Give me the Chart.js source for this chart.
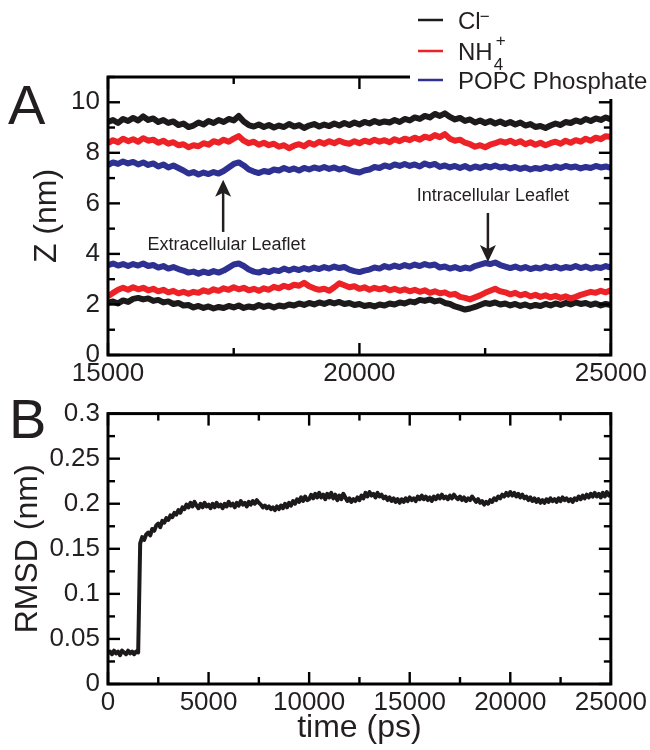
<!DOCTYPE html>
<html><head><meta charset="utf-8">
<script src="https://cdn.jsdelivr.net/npm/chart.js@4"></script>
<style>
html,body{margin:0;padding:0;background:#fff;}
#wrap{position:relative;width:650px;height:750px;overflow:hidden;}
canvas{position:absolute;left:0;}
</style></head><body>
<div id="wrap">
<canvas id="cA" style="top:0;width:650px;height:390px"></canvas>
<canvas id="cB" style="top:390px;width:650px;height:360px"></canvas>
</div>
<script>
// ---------- DATA ----------
const stepA = 100;           // ps between samples, panel A (starts at 15000)
const startA = 15000;
const clUpper = [9.22,9.30,9.18,9.34,9.26,9.38,9.28,9.44,9.30,9.36,9.22,9.30,9.18,9.24,9.10,9.16,9.02,9.08,9.20,9.12,9.26,9.18,9.30,9.22,9.34,9.28,9.46,9.24,9.10,9.04,9.12,9.02,9.10,9.00,9.08,9.02,9.14,9.04,9.10,8.98,9.08,9.14,9.04,9.12,9.06,9.16,9.08,9.18,9.10,9.20,9.12,9.22,9.16,9.26,9.18,9.24,9.20,9.30,9.22,9.34,9.28,9.40,9.34,9.46,9.40,9.54,9.46,9.56,9.42,9.32,9.38,9.26,9.32,9.20,9.28,9.18,9.26,9.16,9.24,9.14,9.22,9.12,9.20,9.08,9.14,9.02,9.06,8.98,9.08,9.16,9.10,9.22,9.18,9.28,9.22,9.34,9.26,9.36,9.30,9.40,9.32];
const nhUpper = [8.38,8.50,8.42,8.56,8.46,8.54,8.44,8.58,8.48,8.52,8.40,8.48,8.36,8.42,8.30,8.34,8.22,8.30,8.26,8.38,8.32,8.46,8.40,8.52,8.44,8.56,8.66,8.48,8.38,8.44,8.32,8.40,8.30,8.36,8.24,8.30,8.18,8.28,8.34,8.26,8.40,8.32,8.44,8.36,8.46,8.38,8.48,8.40,8.36,8.46,8.38,8.48,8.42,8.52,8.44,8.50,8.42,8.54,8.46,8.56,8.50,8.60,8.52,8.64,8.58,8.70,8.62,8.74,8.56,8.48,8.52,8.40,8.34,8.24,8.30,8.22,8.32,8.38,8.46,8.40,8.48,8.38,8.46,8.34,8.42,8.32,8.40,8.30,8.38,8.44,8.36,8.48,8.40,8.50,8.44,8.56,8.48,8.60,8.54,8.66,8.62];
const popcUpper = [7.52,7.62,7.56,7.66,7.58,7.64,7.54,7.62,7.52,7.58,7.46,7.54,7.42,7.50,7.40,7.30,7.18,7.24,7.14,7.22,7.16,7.24,7.18,7.28,7.42,7.56,7.62,7.50,7.34,7.26,7.20,7.28,7.24,7.34,7.30,7.40,7.32,7.38,7.30,7.40,7.34,7.42,7.36,7.44,7.36,7.42,7.34,7.40,7.32,7.26,7.22,7.30,7.34,7.44,7.40,7.50,7.44,7.54,7.48,7.56,7.48,7.54,7.46,7.58,7.50,7.56,7.44,7.50,7.42,7.48,7.40,7.48,7.38,7.46,7.40,7.48,7.42,7.50,7.42,7.46,7.38,7.44,7.36,7.42,7.34,7.40,7.36,7.44,7.38,7.46,7.40,7.48,7.42,7.46,7.38,7.44,7.40,7.48,7.42,7.46,7.40];
const popcLower = [3.56,3.62,3.54,3.60,3.52,3.60,3.54,3.62,3.52,3.56,3.46,3.52,3.42,3.48,3.40,3.34,3.26,3.30,3.22,3.30,3.24,3.32,3.26,3.34,3.46,3.58,3.62,3.52,3.38,3.30,3.26,3.34,3.28,3.36,3.32,3.42,3.34,3.42,3.36,3.44,3.38,3.46,3.40,3.48,3.42,3.50,3.44,3.48,3.38,3.32,3.28,3.34,3.38,3.46,3.42,3.52,3.46,3.54,3.48,3.56,3.50,3.58,3.52,3.60,3.54,3.58,3.46,3.50,3.42,3.48,3.40,3.46,3.42,3.52,3.58,3.64,3.60,3.66,3.56,3.50,3.44,3.50,3.42,3.48,3.40,3.46,3.42,3.50,3.44,3.50,3.42,3.48,3.44,3.52,3.44,3.50,3.42,3.48,3.44,3.52,3.46];
const nhLower = [2.32,2.46,2.58,2.66,2.58,2.68,2.60,2.66,2.56,2.62,2.52,2.58,2.48,2.54,2.44,2.50,2.42,2.50,2.46,2.56,2.50,2.60,2.54,2.64,2.58,2.68,2.60,2.66,2.56,2.62,2.54,2.64,2.58,2.70,2.64,2.74,2.68,2.78,2.74,2.86,2.72,2.64,2.58,2.62,2.54,2.68,2.84,2.76,2.68,2.72,2.62,2.68,2.58,2.66,2.60,2.66,2.56,2.62,2.54,2.60,2.52,2.58,2.50,2.56,2.46,2.52,2.44,2.48,2.38,2.42,2.30,2.26,2.20,2.28,2.36,2.46,2.54,2.62,2.52,2.48,2.40,2.46,2.36,2.42,2.32,2.38,2.30,2.36,2.28,2.34,2.26,2.32,2.24,2.30,2.38,2.44,2.50,2.46,2.54,2.48,2.56];
const clLower = [2.06,2.12,2.04,2.16,2.10,2.22,2.26,2.20,2.24,2.14,2.18,2.08,2.12,2.02,2.06,1.96,1.98,1.88,1.94,1.86,1.92,1.84,1.90,1.86,1.94,1.88,1.96,1.86,1.92,1.88,1.98,1.90,1.96,1.88,1.96,1.92,2.00,1.96,2.04,1.98,2.06,2.00,2.08,2.02,2.10,2.04,2.10,2.02,2.06,1.98,2.02,1.94,1.98,1.92,2.00,1.96,2.04,2.00,2.08,2.04,2.12,2.08,2.18,2.14,2.20,2.12,2.16,2.06,2.02,1.92,1.86,1.80,1.84,1.90,1.98,2.06,2.02,2.08,2.00,2.04,1.96,2.02,1.94,2.00,1.92,1.98,1.94,2.02,1.96,2.04,1.98,2.06,2.00,2.08,2.02,2.06,1.98,2.04,1.96,2.02,1.98];

const stepB = 100;           // ps between samples, panel B (starts at 0)
const rmsd = [0.034,0.036,0.033,0.037,0.034,0.036,0.032,0.037,0.035,0.033,0.037,0.034,0.036,0.033,0.036,0.035,
0.156,0.163,0.160,0.166,0.168,0.165,0.172,0.170,0.176,0.178,0.174,0.181,0.179,0.184,0.182,0.187,0.185,0.190,0.188,0.193,0.190,0.196,0.194,0.199,
0.196,0.201,0.197,0.202,0.198,0.195,0.200,0.196,0.201,0.197,0.199,0.195,0.200,0.196,0.201,0.197,0.199,0.195,0.200,0.197,
0.202,0.198,0.200,0.196,0.201,0.198,0.203,0.199,0.201,0.197,0.202,0.199,0.203,0.200,0.204,0.201,0.199,0.196,0.198,0.195,
0.197,0.194,0.196,0.193,0.197,0.194,0.198,0.195,0.200,0.196,0.201,0.198,0.203,0.200,0.205,0.202,0.207,0.203,0.208,0.204,
0.205,0.210,0.206,0.211,0.207,0.212,0.207,0.210,0.205,0.211,0.207,0.212,0.206,0.210,0.204,0.209,0.205,0.211,0.207,0.203,
0.206,0.202,0.205,0.203,0.207,0.204,0.209,0.206,0.212,0.208,0.213,0.209,0.211,0.207,0.212,0.208,0.210,0.206,0.208,0.204,
0.207,0.203,0.206,0.202,0.205,0.201,0.205,0.202,0.206,0.203,0.207,0.204,0.206,0.203,0.208,0.205,0.209,0.205,0.208,0.204,
0.207,0.203,0.208,0.205,0.209,0.206,0.210,0.206,0.208,0.205,0.209,0.206,0.210,0.207,0.205,0.208,0.204,0.207,0.203,0.206,
0.204,0.208,0.205,0.202,0.205,0.201,0.203,0.199,0.202,0.200,0.204,0.202,0.206,0.204,0.208,0.206,0.210,0.208,0.212,0.209,
0.213,0.209,0.212,0.208,0.211,0.207,0.210,0.206,0.208,0.204,0.207,0.203,0.206,0.202,0.205,0.201,0.204,0.201,0.205,0.202,
0.206,0.203,0.205,0.202,0.206,0.203,0.207,0.204,0.206,0.203,0.205,0.202,0.206,0.204,0.208,0.205,0.209,0.206,0.210,0.207,
0.211,0.208,0.212,0.208,0.211,0.207,0.212,0.208,0.213,0.209,0.212];

// ticks
const xMajorA = [15000, 20000, 25000], xMinorA = [17500, 22500];
const yMajorA = [0, 2, 4, 6, 8, 10], yMinorA = [1, 3, 5, 7, 9, 11];
const xMajorB = [0, 5000, 10000, 15000, 20000, 25000], xMinorB = [2500, 7500, 12500, 17500, 22500];
const yMajorB = [0, 0.05, 0.1, 0.15, 0.2, 0.25, 0.3], yMinorB = [0.025, 0.075, 0.125, 0.175, 0.225, 0.275];

const legendLabels = ['Cl', 'NH', 'POPC Phosphate'];
const colors = {cl: '#1c1a1b', nh: '#ec2227', popc: '#2e3192'};

// annotations (data coordinates)
const notes = [
  {text: 'Extracellular Leaflet', tx: 17356, ty: 4.35, ax: 17290, y0: 4.87, y1: 6.93},
  {text: 'Intracellular Leaflet', tx: 22654, ty: 6.29, ax: 22555, y0: 5.62, y1: 3.68}
];

// ---------- helpers ----------
const FONT = "'Liberation Sans', Arial, Helvetica, sans-serif";
function series(vals, start, step){ return vals.map((v,i)=>({x: start + i*step, y: v})); }
function lineDs(label, vals, start, step, color, w){
  return {label, data: series(vals, start, step), borderColor: color, backgroundColor: color,
          borderWidth: w, pointRadius: 0, tension: 0, fill: false, borderJoinStyle: 'round'};
}
function setTicks(arr){ return s => { s.ticks = arr.map(v => ({value: v})); }; }

const frameTicks = {
  id: 'frameTicks',
  afterDatasetsDraw(chart, args, o){
    const {ctx, chartArea: a, scales: {x, y}} = chart;
    ctx.save();
    ctx.strokeStyle = '#000';
    ctx.lineWidth = 2.4;
    const seg = (x1,y1,x2,y2)=>{ctx.beginPath();ctx.moveTo(x1,y1);ctx.lineTo(x2,y2);ctx.stroke();};
    const xt = (vals,len)=>vals.forEach(v=>{const p=x.getPixelForValue(v); seg(p,a.bottom,p,a.bottom-len); seg(p,a.top,p,a.top+len);});
    const yt = (vals,len)=>vals.forEach(v=>{const p=y.getPixelForValue(v); seg(a.left,p,a.left+len,p); seg(a.right,p,a.right-len,p);});
    xt(o.xMajor, 12); xt(o.xMinor, 7); yt(o.yMajor, 12); yt(o.yMinor, 7);
    ctx.lineWidth = 3;
    ctx.strokeRect(a.left, a.top, a.right - a.left, a.bottom - a.top);
    ctx.restore();
  }
};

const extrasA = {
  id: 'extrasA',
  afterDraw(chart){
    const {ctx, scales: {x, y}} = chart;
    ctx.save();
    // annotations
    ctx.fillStyle = '#231f20'; ctx.strokeStyle = '#231f20';
    ctx.font = '18px ' + FONT; ctx.textAlign = 'center'; ctx.textBaseline = 'middle';
    notes.forEach(n => {
      ctx.fillText(n.text, x.getPixelForValue(n.tx), y.getPixelForValue(n.ty));
      const ax = x.getPixelForValue(n.ax), p0 = y.getPixelForValue(n.y0), p1 = y.getPixelForValue(n.y1);
      const dir = p1 < p0 ? 1 : -1; // 1 = pointing up
      ctx.lineWidth = 2.5;
      ctx.beginPath(); ctx.moveTo(ax, p0); ctx.lineTo(ax, p1 + dir*12); ctx.stroke();
      ctx.beginPath(); ctx.moveTo(ax, p1); ctx.lineTo(ax - 8, p1 + dir*17); ctx.lineTo(ax, p1 + dir*13); ctx.lineTo(ax + 8, p1 + dir*17); ctx.closePath(); ctx.fill();
    });
    // legend (covers the frame corner like the original)
    ctx.fillStyle = '#fff'; ctx.fillRect(410, 0, 240, 99);
    ctx.lineWidth = 2.5;
    const ly = [20, 51, 80], lc = [colors.cl, colors.nh, colors.popc];
    ly.forEach((yy,i)=>{ ctx.strokeStyle = lc[i]; ctx.beginPath(); ctx.moveTo(418, yy); ctx.lineTo(443, yy); ctx.stroke(); });
    ctx.fillStyle = '#231f20'; ctx.textAlign = 'left'; ctx.textBaseline = 'alphabetic';
    ctx.font = '24px ' + FONT;
    ctx.fillText(legendLabels[0], 458, 29);
    let w = ctx.measureText(legendLabels[0]).width;
    ctx.fillText(legendLabels[1], 458, 60);
    let w2 = ctx.measureText(legendLabels[1]).width;
    ctx.fillText(legendLabels[2], 458, 89);
    ctx.font = '17px ' + FONT;
    ctx.fillText('\u2212', 458 + w - 1, 22);
    ctx.fillText('4', 458 + w2 + 1, 70);
    ctx.fillText('+', 458 + w2 + 3, 46);
    // panel letter
    ctx.font = '56px ' + FONT;
    ctx.fillText('A', 8, 124);
    ctx.restore();
  }
};
const extrasB = {
  id: 'extrasB',
  afterDraw(chart){
    const {ctx} = chart;
    ctx.save(); ctx.fillStyle = '#231f20'; ctx.font = '56px ' + FONT; ctx.textBaseline = 'alphabetic';
    ctx.fillText('B', 9, 48); ctx.restore();
  }
};

function makeOptions(c){
  return {
    responsive: false, animation: false, devicePixelRatio: 1,
    layout: {padding: {top: c.padTop, right: 39, bottom: 0, left: 0}},
    plugins: {legend: {display: false}, tooltip: {enabled: false}, frameTicks: c.ft},
    scales: {
      x: {type: 'linear', min: c.xmin, max: c.xmax, afterBuildTicks: setTicks(c.ft.xMajor),
          afterFit: s => { s.height = c.xHeight; },
          grid: {display: false, drawTicks: false}, border: {display: false},
          ticks: {color: '#231f20', font: {family: FONT, size: 26}, padding: c.xPad, maxRotation: 0, autoSkip: false,
                  callback: v => String(v)},
          title: c.xTitle ? {display: true, text: c.xTitle, color: '#231f20', font: {family: FONT, size: 32}, padding: {top: 0, bottom: 3}} : {display: false}},
      y: {type: 'linear', min: c.ymin, max: c.ymax, afterBuildTicks: setTicks(c.ft.yMajor),
          afterFit: s => { s.width = 108; },
          grid: {display: false, drawTicks: false}, border: {display: false},
          ticks: {color: '#231f20', font: {family: FONT, size: 26}, padding: 8, autoSkip: false, callback: v => String(v)},
          title: {display: true, text: c.yTitle, color: '#231f20', font: {family: FONT, size: 32}, padding: {top: c.yTitlePad, bottom: 0}}}
    }
  };
}

new Chart(document.getElementById('cA'), {
  type: 'line',
  data: {datasets: [
    lineDs('POPC Phosphate (upper)', popcUpper, startA, stepA, colors.popc, 6),
    lineDs('POPC Phosphate (lower)', popcLower, startA, stepA, colors.popc, 6),
    lineDs('NH4+ (upper)', nhUpper, startA, stepA, colors.nh, 6),
    lineDs('NH4+ (lower)', nhLower, startA, stepA, colors.nh, 6),
    lineDs('Cl- (upper)', clUpper, startA, stepA, colors.cl, 6),
    lineDs('Cl- (lower)', clLower, startA, stepA, colors.cl, 6)
  ]},
  options: makeOptions({xmin: 15000, xmax: 25000, ymin: 0, ymax: 11, padTop: 77, xHeight: 35, xPad: 3,
    yTitle: 'Z (nm)', yTitlePad: 28, ft: {xMajor: xMajorA, xMinor: xMinorA, yMajor: yMajorA, yMinor: yMinorA}}),
  plugins: [frameTicks, extrasA]
});

new Chart(document.getElementById('cB'), {
  type: 'line',
  data: {datasets: [lineDs('RMSD', rmsd, 0, stepB, colors.cl, 4)]},
  options: makeOptions({xmin: 0, xmax: 25000, ymin: 0, ymax: 0.3, padTop: 15, xHeight: 66, xPad: 3, xTitle: 'time (ps)',
    yTitle: 'RMSD (nm)', yTitlePad: 9, ft: {xMajor: xMajorB, xMinor: xMinorB, yMajor: yMajorB, yMinor: yMinorB}}),
  plugins: [frameTicks, extrasB]
});
</script>
</body></html>
